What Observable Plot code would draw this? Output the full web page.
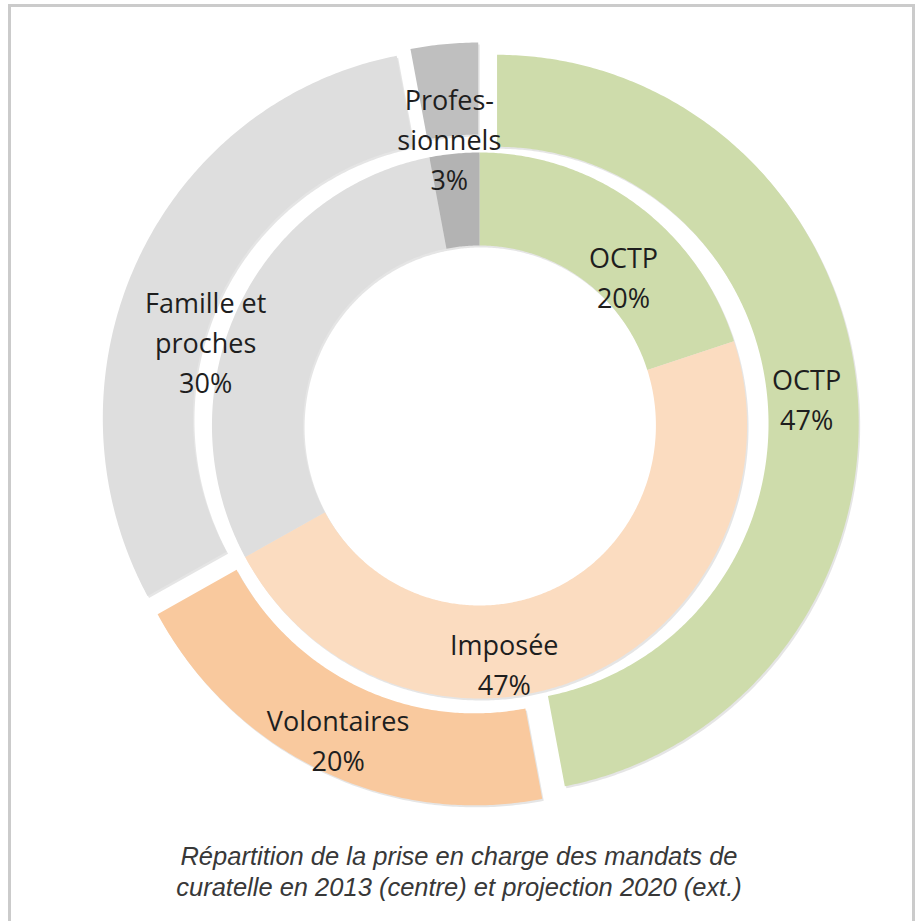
<!DOCTYPE html>
<html><head><meta charset="utf-8">
<script src="https://cdn.jsdelivr.net/npm/d3@7"></script>
<script src="https://cdn.jsdelivr.net/npm/@observablehq/plot@0.6"></script>
<style>
body{margin:0;background:#fff;width:918px;height:921px;overflow:hidden;position:relative}
#frame{position:absolute;left:8px;top:4px;width:901px;height:960px;border:3px solid #cbcbcb;border-bottom:none}
#chart{position:absolute;left:0;top:0}
#caption{position:absolute;left:0;top:841px;width:918px;text-align:center;font-style:italic;font-size:25.5px;font-family:"Liberation Sans",Arial,sans-serif;line-height:31px;color:#383838}
</style></head><body>
<div id="frame"></div>
<div id="chart"></div>
<div id="caption">Répartition de la prise en charge des mandats de<br>curatelle en 2013 (centre) et projection 2020 (ext.)</div>
<script>
// ---- data ----
const cats2013 = ["OCTP", "Imposée", "Famille et proches", "Professionnels"];
const vals2013 = [20, 47, 30, 3];
const cats2020 = ["OCTP", "Volontaires", "Famille et proches", "Professionnels"];
const vals2020 = [47, 20, 30, 3];
const labelNames = {"OCTP": "OCTP", "Imposée": "Imposée", "Volontaires": "Volontaires",
  "Famille et proches": "Famille et\nproches", "Professionnels": "Profes-\nsionnels"};

// ---- style / layout ----
const colors2013 = ["#cedcab", "#fbdcc0", "#dedede", "#b3b3b3"];
const colors2020 = ["#cedcab", "#f9c99e", "#dedede", "#bfbfbf"];
const explode2020 = [18, 12, 17, 14];
const W = 918, H = 830, CX = 479, CY = 425, KX = 0.98;
const radii = {"2013": [180, 273], "2020": [277, 369]};
// which labels are shown, with their polar placement (deg clockwise from top, radius)
const labelLayout = [
  {year: "2013", cat: "OCTP", angle: 44.4, r: 210},
  {year: "2020", cat: "OCTP", angle: 85.2, r: 335},
  {year: "2013", cat: "Imposée", angle: 173.9, r: 238},
  {year: "2020", cat: "Volontaires", angle: 204.8, r: 344},
  {year: "2013", cat: "Famille et proches", angle: 286.9, r: 292},
  {year: "2013", cat: "Professionnels", angle: 353.9, r: 290}
];

const rad = a => a * Math.PI / 180;
function ring(year, cats, vals, explode) {
  const total = d3.sum(vals);
  let acc = 0;
  return cats.map((c, i) => {
    const a0 = acc / total * 360; acc += vals[i];
    const a1 = acc / total * 360;
    return {year, cat: c, value: vals[i], a0, a1, mid: (a0 + a1) / 2, d: explode ? explode[i] : 0, key: year + "|" + c};
  });
}
const segs = [...ring("2013", cats2013, vals2013, null), ...ring("2020", cats2020, vals2020, explode2020)];

const points = [];
for (const s of segs) {
  const [ri, ro] = radii[s.year];
  const ox = s.d * Math.sin(rad(s.mid)), oy = s.d * Math.cos(rad(s.mid));
  const n = Math.max(4, Math.ceil((s.a1 - s.a0) / 0.5));
  for (let j = 0; j <= n; j++) {
    const a = rad(s.a0 + (s.a1 - s.a0) * j / n);
    points.push({key: s.key, x: ro * Math.sin(a) + ox, y: ro * Math.cos(a) + oy});
  }
  for (let j = n; j >= 0; j--) {
    const a = rad(s.a0 + (s.a1 - s.a0) * j / n);
    points.push({key: s.key, x: ri * Math.sin(a) + ox, y: ri * Math.cos(a) + oy});
  }
}

const keys = segs.map(s => s.key);
const colRange = [...colors2013, ...colors2020];

const labels = labelLayout.map(l => {
  const s = segs.find(d => d.year === l.year && d.cat === l.cat);
  return {x: l.r * Math.sin(rad(l.angle)), y: l.r * Math.cos(rad(l.angle)), text: labelNames[s.cat] + "\n" + s.value + "%"};
});

const chart = Plot.plot({
  width: W, height: H, margin: 0,
  style: {background: "transparent", overflow: "visible"},
  x: {domain: [-CX / KX, (W - CX) / KX], axis: null},
  y: {domain: [-(H - CY), CY], axis: null},
  color: {domain: keys, range: colRange},
  marks: [
    Plot.line(points, {x: "x", y: "y", z: "key", fill: "#000", fillOpacity: 0.10, stroke: "none", curve: "linear-closed", dx: 1.5, dy: 2}),
    Plot.line(points, {x: "x", y: "y", z: "key", fill: "key", stroke: "none", curve: "linear-closed"}),
    Plot.text(labels, {x: "x", y: "y", text: "text", fontSize: 27, lineHeight: 1.48, fontFamily: "Open Sans", fill: "#1e1e1e"})
  ]
});
document.getElementById("chart").appendChild(chart);
</script>
</body></html>
